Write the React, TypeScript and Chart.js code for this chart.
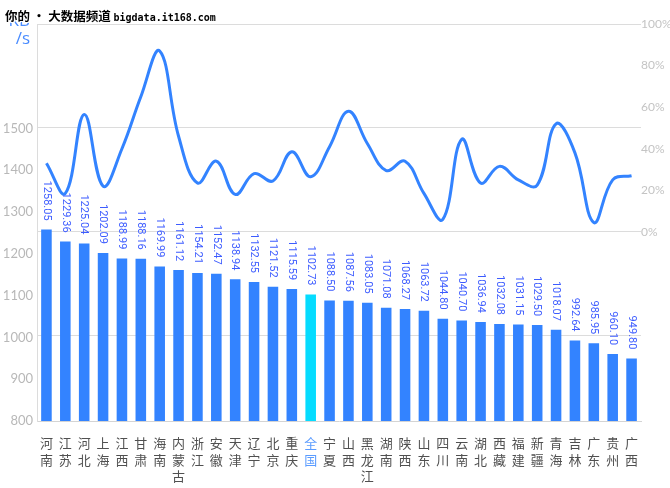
import React, { useEffect, useRef } from "react";
import { Chart, registerables } from "chart.js";

Chart.register(...registerables);

const categories: string[] = [
  "河南", "江苏", "河北", "上海", "江西", "甘肃", "海南", "内蒙古", "浙江", "安徽",
  "天津", "辽宁", "北京", "重庆", "全国", "宁夏", "山西", "黑龙江", "湖南", "陕西",
  "山东", "四川", "云南", "湖北", "西藏", "福建", "新疆", "青海", "吉林", "广东",
  "贵州", "广西",
];

const speedValues: number[] = [
  1258.05, 1229.36, 1225.04, 1202.09, 1188.99, 1188.16, 1169.99, 1161.12, 1154.21, 1152.47,
  1138.94, 1132.55, 1121.52, 1115.59, 1102.73, 1088.5, 1087.56, 1083.05, 1071.08, 1068.27,
  1063.72, 1044.8, 1040.7, 1036.94, 1032.08, 1031.15, 1029.5, 1018.07, 992.64, 985.95,
  960.1, 949.8,
];

const percentValues: number[] = [
  33, 18.5, 56.5, 22, 40, 65, 87, 46, 23.5, 34,
  18, 28, 24.5, 38.5, 26.5, 41, 58, 42.5, 29.5, 34,
  18.5, 6, 44.5, 23.5, 31.5, 25, 22.5, 52, 38, 4.5,
  25, 27,
];

const leftTicksShown: number[] = [800, 900, 1000, 1100, 1200, 1300, 1400, 1500];
const rightTicksShown: number[] = [0, 20, 40, 60, 80, 100];
const rightGridValues: number[] = [-50, 0, 50, 100];

const highlightIndex = categories.indexOf("全国");

const barLabelPlugin = {
  id: "barLabels",
  afterDatasetsDraw(chart: any) {
    const meta = chart.getDatasetMeta(0);
    const ctx = chart.ctx;
    ctx.save();
    ctx.font = "11px Roboto";
    ctx.fillStyle = "#3d5cff";
    meta.data.forEach((el: any, i: number) => {
      ctx.save();
      ctx.translate(el.x, el.y - 9);
      ctx.rotate(Math.PI / 2);
      ctx.textAlign = "right";
      ctx.textBaseline = "middle";
      ctx.fillText(speedValues[i].toFixed(2), 0, 0);
      ctx.restore();
    });
    ctx.restore();
  },
};

export default function App() {
  const canvasRef = useRef<HTMLCanvasElement | null>(null);

  useEffect(() => {
    if (!canvasRef.current) return;
    const chart = new Chart(canvasRef.current, {
      type: "bar",
      data: {
        labels: categories.map((c) => c.split("")),
        datasets: [
          {
            type: "bar",
            data: speedValues,
            yAxisID: "y",
            backgroundColor: categories.map((_, i) => (i === highlightIndex ? "#05dcff" : "#3383ff")),
            barPercentage: 0.56,
            categoryPercentage: 1,
            order: 1,
          },
          {
            type: "line",
            data: percentValues,
            yAxisID: "y1",
            borderColor: "#3383ff",
            borderWidth: 3,
            pointRadius: 0,
            tension: 0.4,
            fill: false,
            order: 0,
          } as any,
        ],
      },
      options: {
        responsive: false,
        animation: false,
        layout: { padding: { top: 24, left: 0, right: 0, bottom: 0 } },
        plugins: { legend: { display: false }, tooltip: { enabled: false } },
        scales: {
          x: {
            grid: { display: false, drawTicks: false },
            border: { display: true, color: "#d4d4d4" },
            ticks: {
              autoSkip: false,
              maxRotation: 0,
              minRotation: 0,
              padding: 14,
              font: { size: 13, family: "'Noto Sans CJK SC'", lineHeight: 1.27 },
              color: (c: any) => (c.index === highlightIndex ? "#5b9cff" : "#505050"),
            },
            afterFit: (s: any) => {
              s.height = 67;
            },
          },
          y: {
            position: "left",
            min: 800,
            max: 1750,
            grid: { display: false, drawTicks: false },
            border: { display: true, color: "#dcdcdc" },
            ticks: {
              stepSize: 100,
              padding: 4,
              color: "#b8b8b8",
              font: { size: 13, family: "Lato" },
              callback: (v: any) => (leftTicksShown.includes(Number(v)) ? String(v) : ""),
            },
            afterFit: (s: any) => {
              s.width = 37;
            },
          },
          y1: {
            position: "right",
            min: -91,
            max: 100,
            grid: {
              drawTicks: false,
              color: (c: any) => (rightGridValues.includes(c.tick?.value) ? "#dcdcdc" : "rgba(0,0,0,0)"),
            },
            border: { display: false },
            ticks: {
              stepSize: 10,
              padding: 0,
              color: "#c4c4c4",
              font: { size: 12, family: "Lato" },
              callback: (v: any) => (rightTicksShown.includes(Number(v)) ? v + "%" : ""),
            },
            afterFit: (s: any) => {
              s.width = 29;
            },
          },
        },
      },
      plugins: [barLabelPlugin],
    } as any);
    return () => chart.destroy();
  }, []);

  return (
    <div style={{ position: "fixed", left: 0, top: 0, width: 670, height: 488, background: "#fff" }}>
      <canvas ref={canvasRef} width={670} height={488} style={{ position: "absolute", left: 0, top: 0 }} />
      <div
        style={{
          position: "absolute",
          left: 0,
          top: 11,
          width: 30,
          textAlign: "right",
          fontFamily: "'Open Sans', sans-serif",
          fontSize: 17,
          lineHeight: "18px",
          color: "#4a8cff",
        }}
      >
        <div>KB</div>
        <div>/s</div>
      </div>
      <div
        style={{
          position: "absolute",
          left: 5,
          top: 6,
          whiteSpace: "nowrap",
          color: "#000",
          fontWeight: "bold",
          textShadow:
            "1px 0 #fff, -1px 0 #fff, 0 1px #fff, 0 -1px #fff, 1px 1px #fff, -1px -1px #fff, 1px -1px #fff, -1px 1px #fff",
        }}
      >
        <span style={{ fontFamily: "'Noto Sans CJK SC'", fontSize: 12.5 }}>你的 · 大数据频道 </span>
        <span style={{ fontFamily: "'DejaVu Sans Mono', monospace", fontSize: 10 }}>bigdata.it168.com</span>
      </div>
    </div>
  );
}
